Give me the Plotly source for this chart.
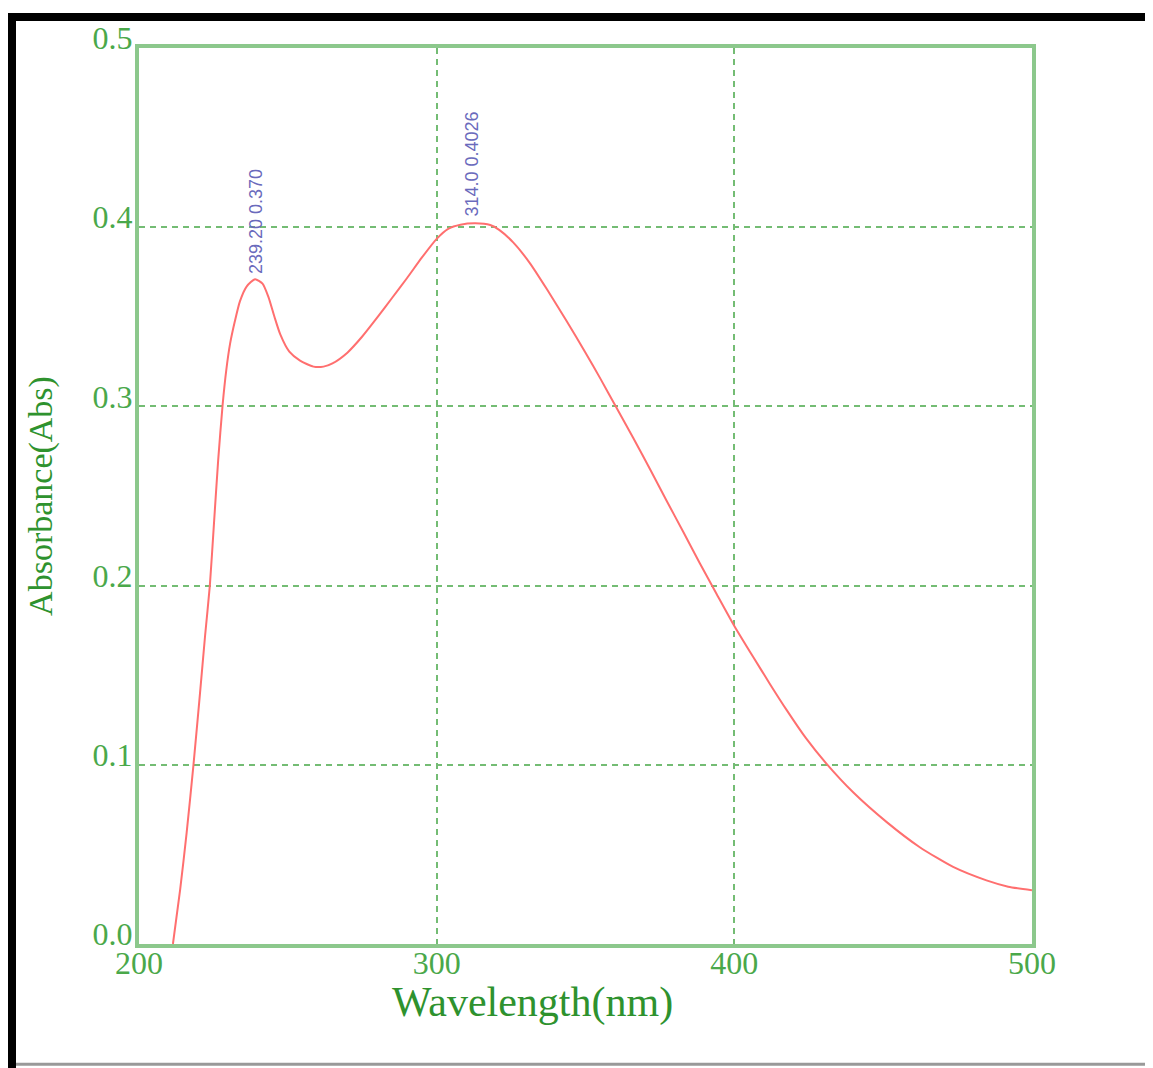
import plotly.graph_objects as go

wavelength = [211.4, 213.8, 216.0, 218.3, 220.5, 222.2, 223.8, 225.2, 226.6, 228.1, 229.3, 230.6, 232.2, 233.9,
              236.2, 239.0, 241.5, 243.5, 245.5, 247.5, 250.5, 254.1, 258.6, 262.0, 265.0, 270.0, 275.0, 280.0,
              285.0, 290.0, 295.0, 300.0, 304.0, 308.0, 313.0, 318.0, 321.0, 325.7, 331.3, 337.0, 343.7, 350.0,
              355.0, 360.0, 366.0, 372.0, 377.2, 383.0, 388.4, 394.0, 400.0, 406.4, 412.0, 417.6, 424.0, 431.0,
              440.0, 451.2, 462.3, 473.5, 484.7, 492.0, 500.0]
absorbance = [0.0, 0.030, 0.062, 0.100, 0.140, 0.172, 0.200, 0.235, 0.270, 0.301, 0.320, 0.335, 0.3475, 0.3586,
              0.367, 0.371, 0.3685, 0.361, 0.350, 0.340, 0.3305, 0.3255, 0.3222, 0.3222, 0.3240, 0.3300, 0.3390, 0.3495,
              0.3605, 0.3715, 0.3830, 0.3935, 0.3992, 0.4014, 0.4022, 0.4012, 0.3985, 0.3915, 0.3800, 0.3655, 0.3475, 0.3300,
              0.3155, 0.3005, 0.2825, 0.2640, 0.2475, 0.2295, 0.2125, 0.1955, 0.1775, 0.1600, 0.1450, 0.1305, 0.1150, 0.1005,
              0.0845, 0.0680, 0.0540, 0.0430, 0.0355, 0.0320, 0.0300]

peak_x = [239.5, 312.0]
peak_y = [0.370, 0.402]
peak_labels = ["239.20 0.370", "314.0 0.4026"]

x_ticks = [200, 300, 400, 500]
y_ticks = [0.0, 0.1, 0.2, 0.3, 0.4, 0.5]
y_tick_text = ["0.0", "0.1", "0.2", "0.3", "0.4", "0.5"]

x_title = "Wavelength(nm)"
y_title = "Absorbance(Abs)"

fig = go.Figure()
fig.add_trace(go.Scatter(x=wavelength, y=absorbance, mode="lines",
                         line=dict(color="#ff6f6f", width=2, shape="spline", smoothing=0.6),
                         hoverinfo="skip", showlegend=False))

for px, py, lab in zip(peak_x, peak_y, peak_labels):
    fig.add_annotation(x=px, y=py, text=lab, textangle=-90, showarrow=False,
                       xanchor="center", yanchor="bottom", yshift=5,
                       font=dict(family="Liberation Sans", size=18, color="#6a6abc"))

# window-pixel helpers (figure is offset by the 8px page margin)
W, H = 893.0, 898.0
def px_x(p):
    return (p - 139) / W
def px_y(p):
    return (944 - p) / H

fig.add_annotation(xref="paper", yref="paper", x=px_x(532), y=px_y(1003), text=x_title, showarrow=False,
                   xanchor="center", yanchor="middle",
                   font=dict(size=42, color="#2e922e", family="Liberation Serif"))

green_font = "#4aa84a"
grid_col = "#74bc74"
fig.update_layout(
    width=1145, height=1060,
    margin=dict(l=131, r=121, t=38, b=124),
    paper_bgcolor="white", plot_bgcolor="white",
    font=dict(family="Liberation Serif", color=green_font),
    xaxis=dict(range=[200, 500], tickvals=x_ticks, ticks="", showline=True, mirror=True,
               linecolor="#8cc88c", linewidth=4, showgrid=True, gridcolor=grid_col,
               griddash="6px,5px", gridwidth=2, zeroline=False, ticklabelstandoff=-12,
               tickfont=dict(size=32, color=green_font, family="Liberation Serif")),
    yaxis=dict(range=[0, 0.5], tickvals=y_ticks, ticktext=y_tick_text, ticks="", showline=True, mirror=True,
               linecolor="#8cc88c", linewidth=4, showgrid=True, gridcolor=grid_col,
               griddash="6px,5px", gridwidth=2, zeroline=False, ticklabelshift=-10, ticklabelstandoff=-4,
               tickfont=dict(size=32, color=green_font, family="Liberation Serif"),
               title=dict(text=y_title, standoff=31,
                          font=dict(size=34, color="#2e922e", family="Liberation Serif"))),
)

# decorative frame of the screenshot
fig.add_shape(type="rect", xref="paper", yref="paper", x0=px_x(8), x1=px_x(1160), y0=px_y(19), y1=px_y(11),
              fillcolor="black", line=dict(width=0), layer="above")
fig.add_shape(type="rect", xref="paper", yref="paper", x0=px_x(8), x1=px_x(16), y0=px_y(1070), y1=px_y(11),
              fillcolor="black", line=dict(width=0), layer="above")
fig.add_shape(type="rect", xref="paper", yref="paper", x0=px_x(16), x1=px_x(1160), y0=px_y(1066), y1=px_y(1063),
              fillcolor="#999999", line=dict(width=0), layer="above")

fig.write_html("out.html")
